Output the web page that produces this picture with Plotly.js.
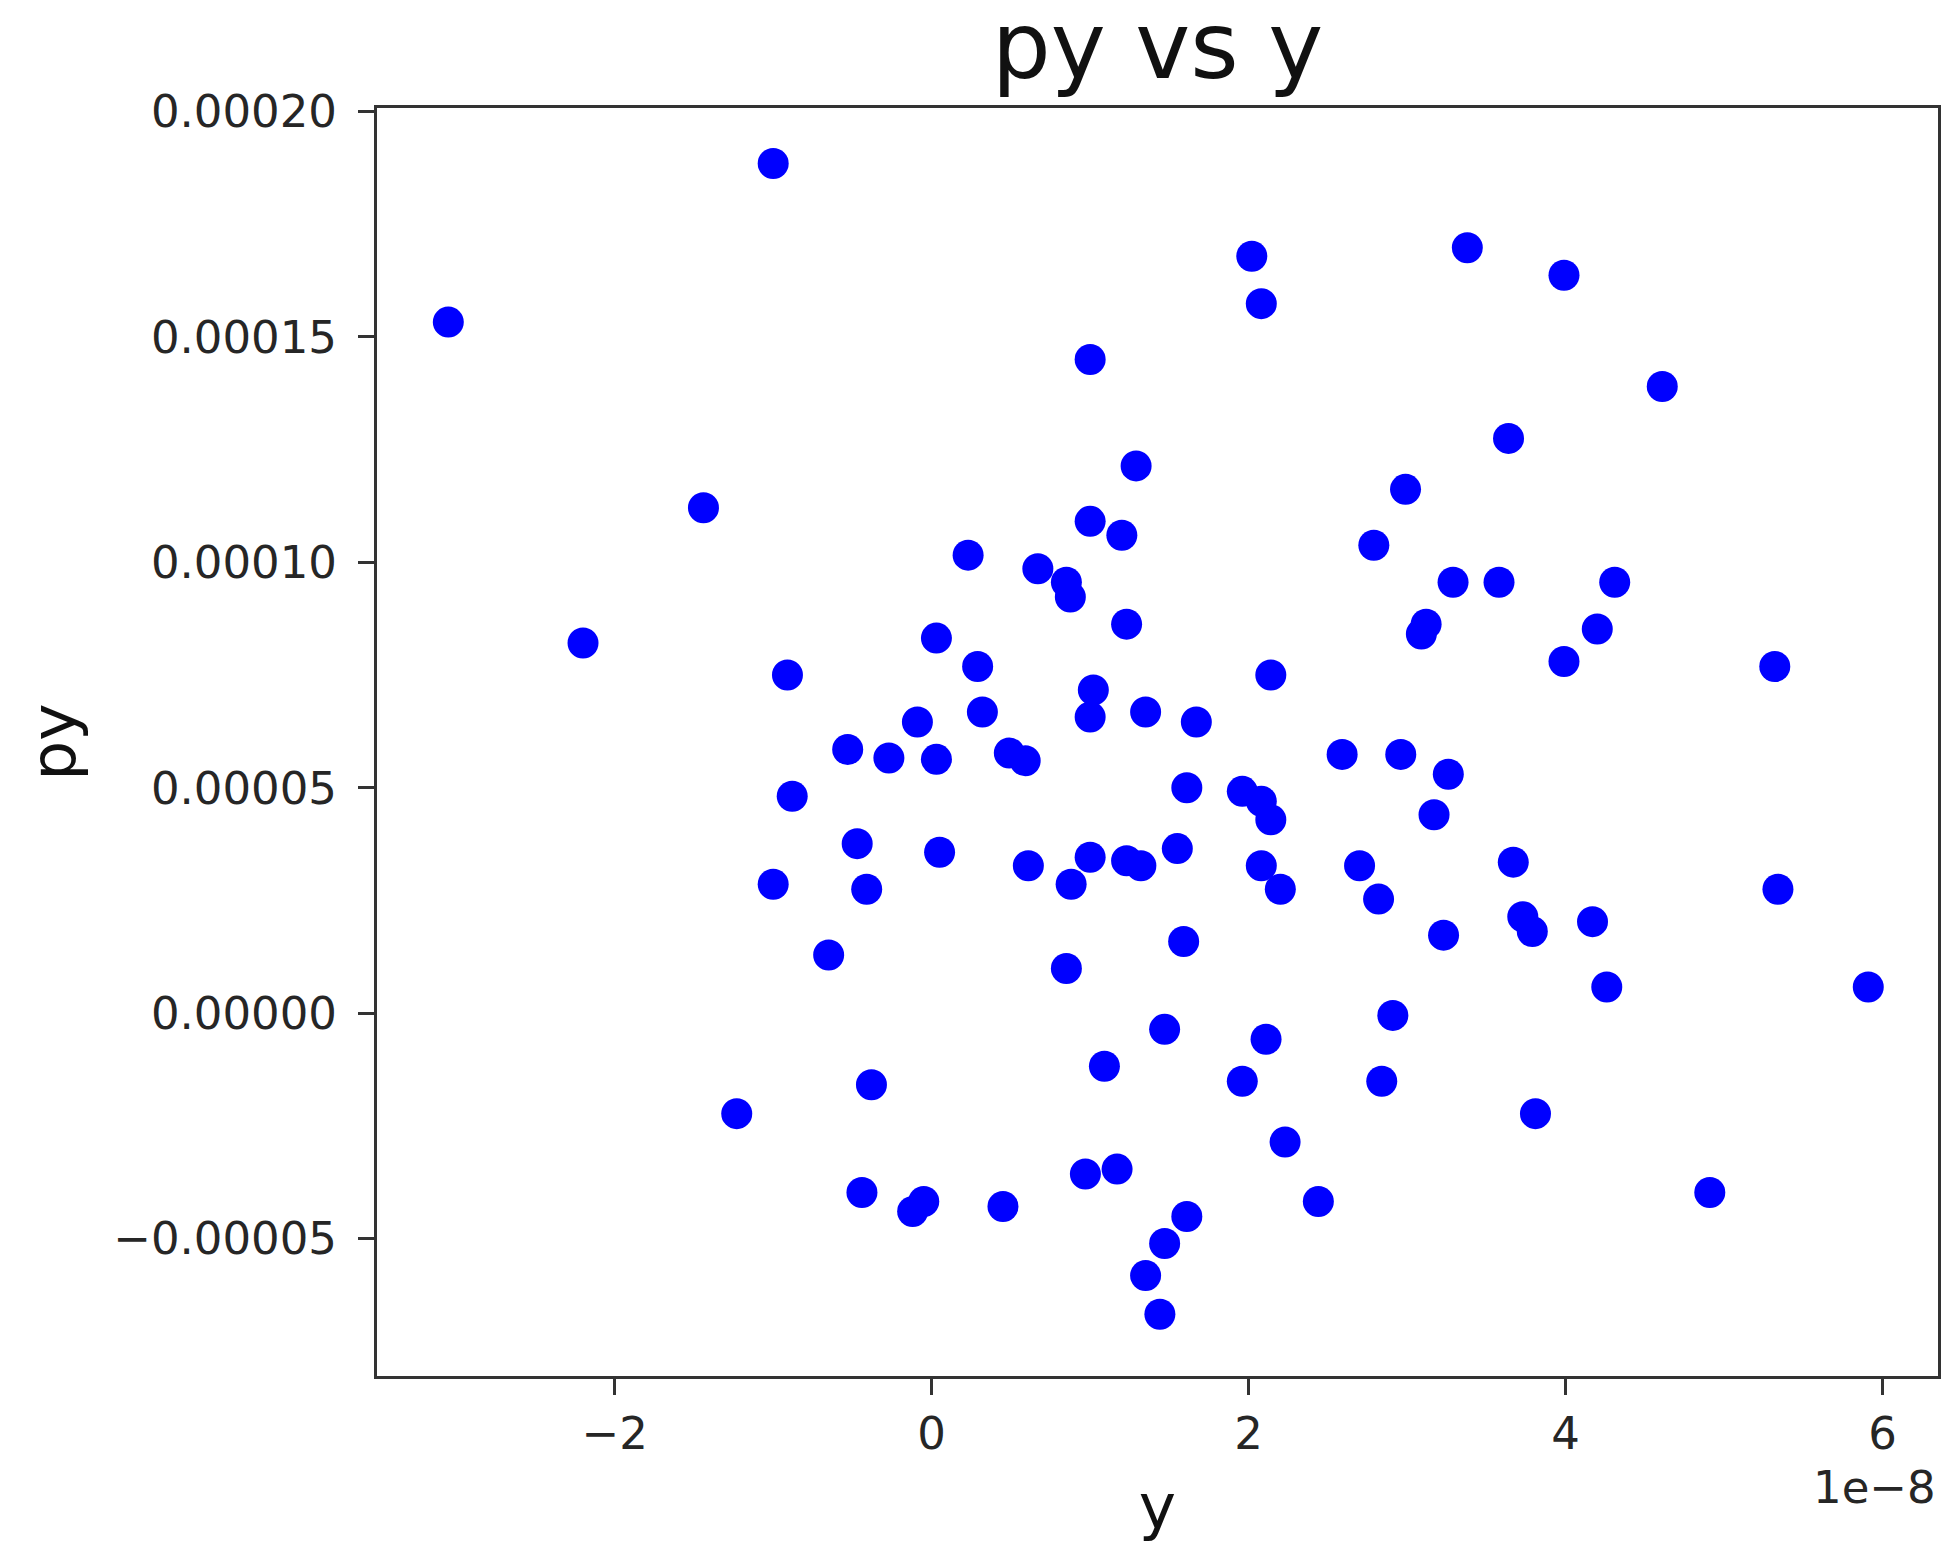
<!DOCTYPE html>
<html>
<head>
<meta charset="utf-8">
<script src="https://cdn.plot.ly/plotly-3.0.1.min.js"></script>
<style>html,body{margin:0;padding:0;background:#fff;}</style>
</head>
<body>
<div id="chart" style="width:1942px;height:1550px;"></div>
<script>
// y values in units of 1e-8, py values in units of 1e-5
const Y_SCALE = 1e-8;
const PY_SCALE = 1e-5;
const yVals = [-3.05,-1.0,-2.20,-1.44,-0.91,-0.88,-1.0,-0.53,-0.27,-0.09,
  0.03,0.03,0.23,0.29,0.32,0.49,0.59,0.67,0.85,0.875,
  1.0,1.0,1.20,1.29,1.23,1.02,1.0,1.35,1.67,2.02,
  2.08,2.14,1.61,1.96,2.08,2.14,2.59,2.96,3.26,3.17,
  2.79,2.99,3.09,3.12,3.29,3.38,3.64,3.58,3.99,4.61,
  4.31,4.20,3.99,5.32,5.34,5.91,4.91,4.26,4.17,3.81,
  3.79,3.73,3.67,3.23,2.91,2.84,2.82,2.70,2.20,2.08,
  2.11,2.23,2.44,1.96,1.59,1.55,1.32,1.23,1.0,0.88,
  0.85,0.61,0.05,-0.41,-0.47,-0.65,-0.38,-1.23,-0.44,-0.12,
  -0.05,0.45,0.97,1.17,1.47,1.09,1.35,1.47,1.44,1.61];
const pyVals = [15.33,18.85,8.21,11.21,7.50,4.81,2.86,5.85,5.66,6.46,
  5.63,8.32,10.16,7.69,6.68,5.77,5.60,9.86,9.56,9.23,
  14.5,10.91,10.60,12.14,8.63,7.17,6.57,6.68,6.46,16.79,
  15.74,7.50,5.0,4.92,4.70,4.29,5.74,5.74,5.30,4.40,
  10.38,11.62,8.41,8.63,9.56,16.98,12.75,9.56,16.37,13.90,
  9.56,8.52,7.80,7.69,2.75,0.58,-3.98,0.58,2.03,-2.23,
  1.81,2.14,3.35,1.73,-0.05,-1.51,2.53,3.27,2.75,3.27,
  -0.58,-2.86,-4.18,-1.51,1.59,3.65,3.27,3.38,3.46,2.86,
  0.99,3.27,3.57,2.75,3.76,1.29,-1.59,-2.23,-3.98,-4.40,
  -4.18,-4.29,-3.57,-3.46,-0.36,-1.18,-5.82,-5.11,-6.68,-4.51];
const xTickVals = [-2,0,2,4,6];
const xTickText = ["\u22122","0","2","4","6"];
const yTickVals = [-5,0,5,10,15,20];
const yTickText = ["\u22120.00005","0.00000","0.00005","0.00010","0.00015","0.00020"];

const FONT = "DejaVu Sans, Verdana, sans-serif";
const trace = {
  type: "scatter", mode: "markers",
  x: yVals.map(v => v * Y_SCALE),
  y: pyVals.map(v => v * PY_SCALE),
  marker: {color: "#0000ff", size: 31, line: {width: 0}},
  hoverinfo: "skip"
};
const axisCommon = {
  showline: true, mirror: true, linecolor: "#333", linewidth: 3,
  ticks: "outside", ticklen: 16, tickwidth: 3, tickcolor: "#333",
  showgrid: false, zeroline: false,
  tickfont: {family: FONT, size: 45, color: "#262626"}
};
const layout = {
  width: 1942, height: 1550,
  margin: {l: 377, r: 4, t: 108, b: 174},
  paper_bgcolor: "#fff", plot_bgcolor: "#fff",
  showlegend: false,
  title: {text: "py vs y", font: {family: FONT, size: 93, color: "#111"},
    xref: "paper", x: 0.5, xanchor: "center", yref: "container", y: 1 - 78/1550, yanchor: "bottom"},
  xaxis: Object.assign({}, axisCommon, {
    range: [-3.50 * Y_SCALE, 6.35 * Y_SCALE],
    tickvals: xTickVals.map(v => v * Y_SCALE), ticktext: xTickText,
    title: {text: "y", font: {family: FONT, size: 63, color: "#111"}, standoff: 25}
  }),
  yaxis: Object.assign({}, axisCommon, {
    range: [-8.05 * PY_SCALE, 20.08 * PY_SCALE],
    tickvals: yTickVals.map(v => v * PY_SCALE), ticktext: yTickText,
    ticklabelstandoff: 12,
    title: {text: "py", font: {family: FONT, size: 63, color: "#111"}, standoff: 18}
  }),
  annotations: [{
    text: "1e\u22128", xref: "paper", yref: "paper", x: 1, y: -(1488-1376)/1268,
    xanchor: "right", yanchor: "middle", showarrow: false,
    font: {family: FONT, size: 45, color: "#262626"}
  }]
};
Plotly.newPlot("chart", [trace], layout, {staticPlot: true, displayModeBar: false});
</script>
</body>
</html>
